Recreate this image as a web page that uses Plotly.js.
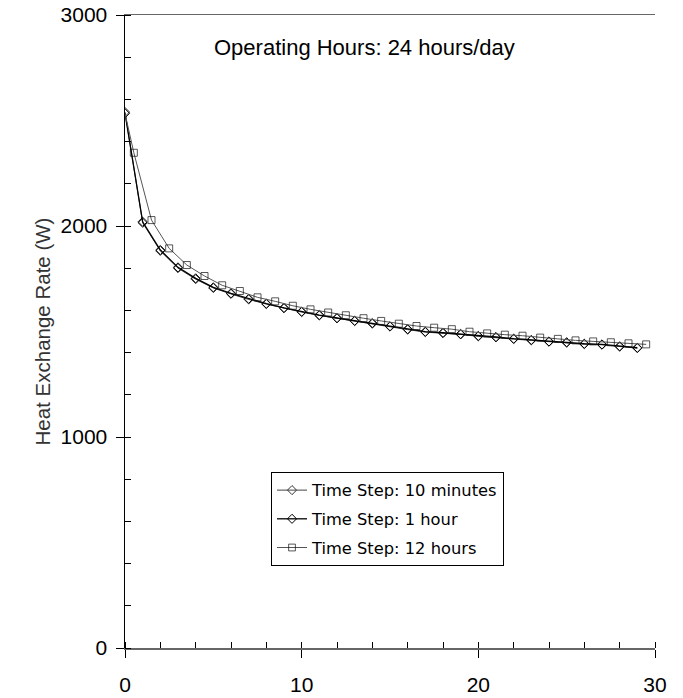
<!DOCTYPE html>
<html>
<head>
<meta charset="utf-8">
<script src="https://cdn.plot.ly/plotly-3.0.1.min.js"></script>
<style>html,body{margin:0;padding:0;background:#fff;}#chart{width:683px;height:698px;}</style>
</head>
<body>
<div id="chart"></div>
<script>
// Data
const xDiamond = [0,1,2,3,4,5,6,7,8,9,10,11,12,13,14,15,16,17,18,19,20,21,22,23,24,25,26,27,28,29];
const rate10min = [2540,2015,1882,1800,1748,1706,1678,1652,1630,1610,1592,1576,1562,1549,1537,1523,1509,1497,1492,1486,1477,1472,1464,1458,1451,1447,1440,1437,1428,1421];
const rate1hour = [2534,2020,1886,1804,1752,1709,1681,1655,1632,1612,1594,1578,1564,1551,1540,1525,1511,1499,1494,1488,1479,1474,1466,1460,1453,1449,1442,1439,1430,1423];
const xSquare = [0,0.5,1.5,2.5,3.5,4.5,5.5,6.5,7.5,8.5,9.5,10.5,11.5,12.5,13.5,14.5,15.5,16.5,17.5,18.5,19.5,20.5,21.5,22.5,23.5,24.5,25.5,26.5,27.5,28.5,29.5];
const rate12hour = [2534,2347,2028,1894,1815,1763,1719,1692,1662,1643,1622,1605,1590,1577,1563,1550,1537,1526,1518,1511,1499,1491,1485,1480,1471,1465,1458,1453,1449,1444,1439];
const seriesNames = ["Time Step: 10 minutes","Time Step: 1 hour","Time Step: 12 hours"];
const titleText = "Operating Hours: 24 hours/day";
const yTitle = "Heat Exchange Rate (W)";

const FONT = "Liberation Sans, Arial, sans-serif";
const LFONT = "DejaVu Sans, sans-serif";
const sqSizes = xSquare.map((v,i)=> i===0 ? 0 : 7);

const traces = [
  {x: xDiamond, y: rate10min, name: seriesNames[0], mode: "lines+markers", legendgroup:"a",
   line:{color:"#444444", width:1}, marker:{symbol:"diamond-open", size:7, color:"#333333", line:{width:1}}},
  {x: xDiamond, y: rate1hour, name: seriesNames[1], mode: "lines+markers", legendgroup:"b",
   line:{color:"#000000", width:1.3}, marker:{symbol:"diamond-open", size:7, color:"#000000", line:{width:1}}},
  {x: xSquare, y: rate12hour, name: seriesNames[2], mode: "lines+markers", legendgroup:"c",
   line:{color:"#555555", width:1}, marker:{symbol:"square-open", size:sqSizes, color:"#111111", line:{width:1}}}
];

const layout = {
  width: 683, height: 698,
  margin: {l:125, r:28, t:15, b:50},
  paper_bgcolor: "#fff", plot_bgcolor: "#fff",
  font: {family: FONT, color: "#000"},
  showlegend: true,
  legend: {x:0.2755, y:0.278, xanchor:"left", yanchor:"top", bgcolor:"#fff", bordercolor:"#000", borderwidth:1,
           font:{family:LFONT, size:16.3, color:"#000"}, tracegroupgap:4.5, traceorder:"grouped"},
  xaxis: {range:[0,30], dtick:10, tick0:0, showgrid:false, zeroline:false,
          showline:true, linecolor:"#666", linewidth:1.5, mirror:true,
          ticks:"outside", ticklen:8, tickcolor:"#000", tickwidth:1,
          tickfont:{family:FONT, size:21, color:"#000"}, ticklabelstandoff:9,
          minor:{ticks:"inside", dtick:2, ticklen:6, tickcolor:"#000", showgrid:false}},
  xaxis2: {range:[0,30], dtick:10, tick0:0, overlaying:"x", anchor:"y", showgrid:false, zeroline:false,
           showline:false, ticks:"inside", ticklen:8, tickcolor:"#000", showticklabels:false},
  yaxis: {range:[0,3000], dtick:1000, tick0:0, showgrid:false, zeroline:false,
          showline:true, linecolor:"#000", linewidth:1.5,
          ticks:"outside", ticklen:8, tickcolor:"#000",
          tickfont:{family:FONT, size:21, color:"#000"}, ticklabelstandoff:4,
          title:{text:yTitle, font:{family:FONT, size:20.5, color:"#333"}, standoff:4},
          minor:{ticks:"inside", dtick:200, ticklen:6, tickcolor:"#000", showgrid:false}},
  yaxis2: {range:[0,3000], dtick:1000, overlaying:"y", side:"left", anchor:"x", showgrid:false, zeroline:false,
           showline:false, ticks:"inside", ticklen:8, tickcolor:"#000", showticklabels:false},
  yaxis3: {range:[0,3000], overlaying:"y", side:"right", anchor:"x", showgrid:false, zeroline:false,
           showline:true, linecolor:"#666", linewidth:1.5, ticks:"", showticklabels:false},
  annotations: [{text:titleText, xref:"paper", yref:"paper", x:0.452, y:0.948, xanchor:"center", yanchor:"middle",
                 showarrow:false, font:{family:FONT, size:22, color:"#000"}}]
};

Plotly.newPlot("chart", traces, layout, {displayModeBar:false, staticPlot:true});
</script>
</body>
</html>
